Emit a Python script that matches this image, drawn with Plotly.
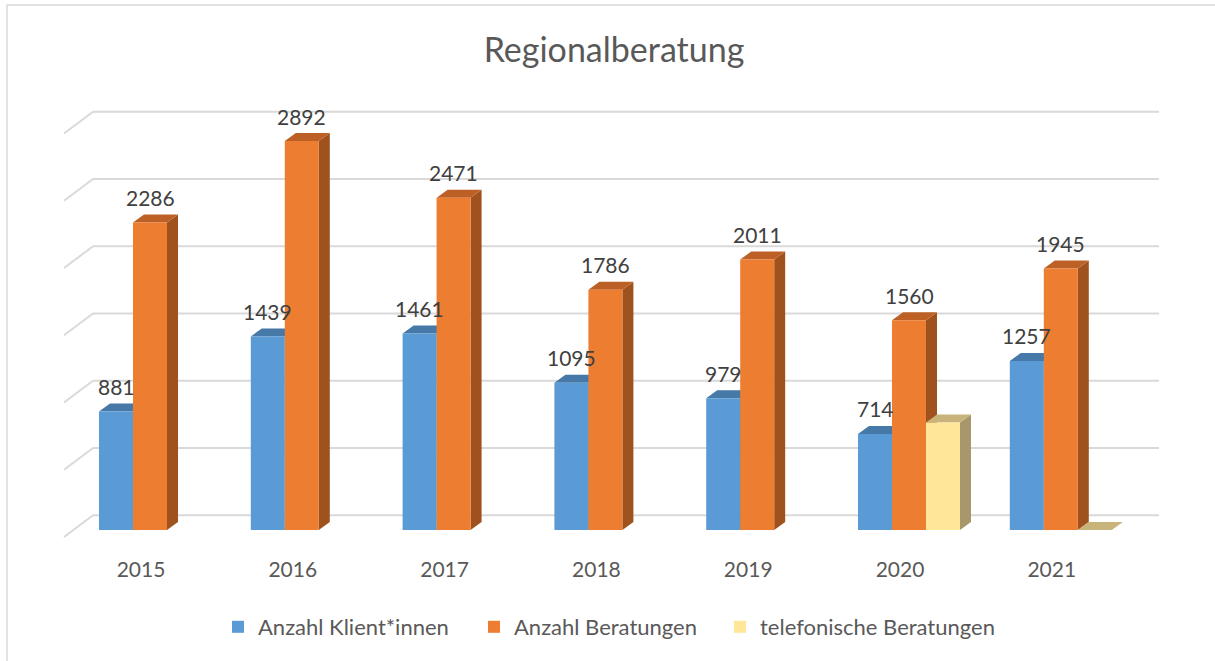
import plotly.graph_objects as go

# ---------------- data ----------------
years = ["2015", "2016", "2017", "2018", "2019", "2020", "2021"]
klienten = [881, 1439, 1461, 1095, 979, 714, 1257]
beratungen = [2286, 2892, 2471, 1786, 2011, 1560, 1945]
telefon = [None, None, None, None, None, 800, 0]
series_names = ["Anzahl Klient*innen", "Anzahl Beratungen", "telefonische Beratungen"]
grid_values = [0, 500, 1000, 1500, 2000, 2500, 3000]

# ---------------- styling / layout constants ----------------
FRONT = ["#5B9BD5", "#ED7D31", "#FFE699"]
SIDE = ["#3F6E9B", "#A0521E", "#A8976A"]
TOP = ["#4678A8", "#BD6026", "#C8B47A"]
GRID = "#D9D9D9"

W_FIG, H_FIG = 1215, 661
PL, PR, PT, PB = 40, 1180, 90, 555      # plot area in pixels
X0, SX = 150.0, 151.8                    # px of category 0 centre, px per category
Y0, K = 530.0, 0.1345                    # px of value 0 (front plane), px per unit
BAR_PX = 34.0
DX_PX, DY_PX = 11.0, 8.0                 # bar depth offsets (px)
WALL_DY_PX = 530.0 - 515.3               # back wall offset
FLOOR_DY_PX = 537.0 - 530.0
WALL_X0_PX, WALL_X1_PX, FRONT_X_PX = 93.0, 1159.0, 64.0
LEGEND_TEXT_PX = [258, 514, 760]         # where each legend label starts
LEGEND_Y_PX = 627

W = BAR_PX / SX
DX = DX_PX / SX
DY = DY_PX / K


def px_to_x(px):
    return (px - X0) / SX


def px_to_y(py):
    return (Y0 - py) / K


xr = [px_to_x(PL), px_to_x(PR)]
yr = [px_to_y(PB), px_to_y(PT)]


def xpaper(px):
    return (px - PL) / (PR - PL)


def ypaper(py):
    return (PB - py) / (PB - PT)


fig = go.Figure()

# ---- gridlines on back wall + side wall diagonals ----
gx, gy = [], []
for v in grid_values:
    gx += [px_to_x(WALL_X0_PX), px_to_x(WALL_X1_PX), None]
    gy += [v + WALL_DY_PX / K, v + WALL_DY_PX / K, None]
    gx += [px_to_x(FRONT_X_PX), px_to_x(WALL_X0_PX), None]
    gy += [v - FLOOR_DY_PX / K, v + WALL_DY_PX / K, None]
fig.add_trace(go.Scatter(x=gx, y=gy, mode="lines", line=dict(color=GRID, width=2),
                         hoverinfo="skip", showlegend=False, xaxis="x", yaxis="y"))

# ---- 3D side and top faces ----
all_series = [klienten, beratungen, telefon]
for j, vals in enumerate(all_series):
    sx, sy, tx, ty = [], [], [], []
    for i, v in enumerate(vals):
        if v is None:
            continue
        xl = i + (j - 1.5) * W
        xrt = xl + W
        # right side face
        sx += [xrt, xrt + DX, xrt + DX, xrt, xrt, None]
        sy += [0, DY, v + DY, v, 0, None]
        # top face
        tx += [xl, xrt, xrt + DX, xl + DX, xl, None]
        ty += [v, v, v + DY, v + DY, v, None]
    fig.add_trace(go.Scatter(x=sx, y=sy, mode="lines", fill="toself", fillcolor=SIDE[j],
                             line=dict(width=0, color=SIDE[j]), hoverinfo="skip",
                             showlegend=False, xaxis="x", yaxis="y"))
    fig.add_trace(go.Scatter(x=tx, y=ty, mode="lines", fill="toself", fillcolor=TOP[j],
                             line=dict(width=0, color=TOP[j]), hoverinfo="skip",
                             showlegend=False, xaxis="x", yaxis="y"))

# ---- front faces (bars) on overlaying axes ----
legend_ids = ["legend", "legend2", "legend3"]
for j, vals in enumerate(all_series):
    fig.add_trace(go.Bar(
        x=list(range(len(years))), y=vals, name=series_names[j],
        width=W, offset=(j - 1.5) * W,
        marker=dict(color=FRONT[j], line=dict(width=0)),
        xaxis="x2", yaxis="y2", legend=legend_ids[j],
    ))

# ---- data labels ----
annotations = []
for j, vals in enumerate([klienten, beratungen]):
    for i, v in enumerate(vals):
        annotations.append(dict(
            x=i + (j - 1) * W, y=v, xref="x2", yref="y2", text=str(v),
            showarrow=False, yshift=25,
            font=dict(size=21, color="#404040", family="Lato"),
        ))

legend_layout = {}
for j, lid in enumerate(legend_ids):
    legend_layout[lid] = dict(
        orientation="h", x=xpaper(LEGEND_TEXT_PX[j] - 40), xanchor="left",
        y=ypaper(LEGEND_Y_PX), yanchor="middle",
        font=dict(size=22, color="#595959", family="Lato"),
        itemwidth=30, bgcolor="rgba(0,0,0,0)",
    )

fig.update_layout(
    width=W_FIG, height=H_FIG,
    margin=dict(l=PL, r=W_FIG - PR, t=PT, b=H_FIG - PB, pad=0),
    paper_bgcolor="white", plot_bgcolor="white",
    barmode="overlay",
    font=dict(family="Lato", color="#595959"),
    title=dict(text="Regionalberatung", x=614 / W_FIG, xanchor="center",
               y=1 - 50 / H_FIG, yanchor="middle", yref="container",
               font=dict(size=34, color="#595959", family="Lato")),
    xaxis=dict(range=xr, showgrid=False, zeroline=False, showline=False, ticks="",
               tickvals=[px_to_x(X0 - 9 + SX * i) for i in range(len(years))],
               ticktext=years, tickfont=dict(size=21, color="#595959", family="Lato"),
               fixedrange=True),
    yaxis=dict(range=yr, showgrid=False, zeroline=False, showline=False,
               showticklabels=False, ticks="", fixedrange=True),
    xaxis2=dict(range=xr, overlaying="x", visible=False, fixedrange=True),
    yaxis2=dict(range=yr, overlaying="y", visible=False, fixedrange=True),
    annotations=annotations,
    shapes=[dict(type="rect", xref="paper", yref="paper",
                 x0=xpaper(7), x1=xpaper(1240), y0=ypaper(5), y1=ypaper(690),
                 line=dict(color=GRID, width=1.5), fillcolor="rgba(0,0,0,0)",
                 layer="below")],
    **legend_layout,
)

fig.write_html("out.html", include_plotlyjs=True,
               config={"displayModeBar": False},
               post_script="document.body.style.margin='0';document.body.style.overflow='hidden';")
